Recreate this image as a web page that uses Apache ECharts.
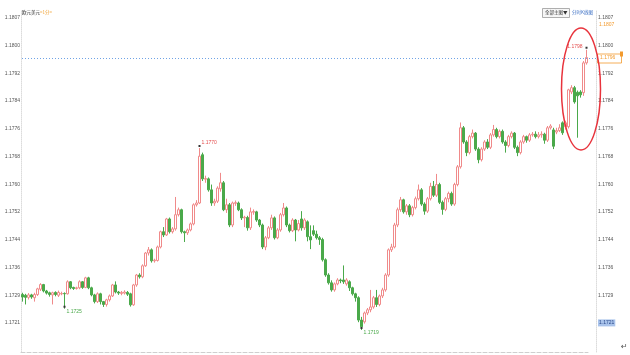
<!DOCTYPE html>
<html><head><meta charset="utf-8">
<script src="https://cdn.jsdelivr.net/npm/echarts@6/dist/echarts.min.js"></script>
<style>html,body{margin:0;padding:0;background:#fff}#c{width:630px;height:355px}</style>
</head><body><div id="c"></div>
<script>
const tickLabels = ["1.1721","1.1729","1.1736","1.1744","1.1752","1.1760","1.1768","1.1776","1.1784","1.1792","1.1800","1.1807"];
const opens = [
1.17290,1.17288,1.17282,1.17289,1.17281,
1.17290,1.17305,1.17318,1.17300,1.17295,
1.17289,1.17296,1.17288,1.17292,1.17293,
1.17292,1.17326,1.17310,1.17307,1.17309,
1.17326,1.17310,1.17337,1.17309,1.17289,
1.17270,1.17292,1.17270,1.17262,1.17275,
1.17286,1.17317,1.17297,1.17293,1.17294,
1.17296,1.17292,1.17261,1.17317,1.17345,
1.17340,1.17371,1.17407,1.17416,1.17385,
1.17386,1.17424,1.17467,1.17458,1.17503,
1.17467,1.17475,1.17515,1.17529,1.17467,
1.17464,1.17472,1.17489,1.17543,1.17548,
1.17684,1.17615,1.17616,1.17585,1.17548,
1.17553,1.17588,1.17605,1.17529,1.17543,
1.17486,1.17547,1.17548,1.17529,1.17506,
1.17507,1.17478,1.17522,1.17523,1.17500,
1.17486,1.17424,1.17450,1.17478,1.17506,
1.17450,1.17472,1.17515,1.17534,1.17486,
1.17470,1.17500,1.17472,1.17503,1.17478,
1.17495,1.17453,1.17470,1.17460,1.17450,
1.17445,1.17388,1.17345,1.17323,1.17303,
1.17320,1.17331,1.17331,1.17320,1.17326,
1.17309,1.17292,1.17281,1.17218,1.17213,
1.17238,1.17247,1.17255,1.17281,1.17262,
1.17286,1.17303,1.17345,1.17416,1.17424,
1.17486,1.17529,1.17557,1.17523,1.17540,
1.17515,1.17535,1.17560,1.17585,1.17545,
1.17525,1.17560,1.17595,1.17570,1.17600,
1.17550,1.17530,1.17560,1.17575,1.17545,
1.17600,1.17650,1.17760,1.17720,1.17690,
1.17735,1.17745,1.17700,1.17670,1.17700,
1.17720,1.17705,1.17740,1.17755,1.17735,
1.17750,1.17720,1.17710,1.17735,1.17745,
1.17705,1.17690,1.17720,1.17735,1.17725,
1.17740,1.17742,1.17735,1.17740,1.17742,
1.17725,1.17760,1.17754,1.17748,1.17752,
1.17774,1.17763,1.17763,1.17861,1.17873,
1.17860,1.17861,1.17859,1.17943];
const closes = [
1.17283,1.17282,1.17289,1.17283,1.17290,
1.17306,1.17318,1.17300,1.17294,1.17290,
1.17295,1.17290,1.17296,1.17293,1.17292,
1.17326,1.17309,1.17307,1.17309,1.17326,
1.17310,1.17337,1.17309,1.17289,1.17270,
1.17292,1.17270,1.17262,1.17275,1.17286,
1.17317,1.17297,1.17294,1.17296,1.17297,
1.17291,1.17261,1.17317,1.17345,1.17340,
1.17371,1.17407,1.17416,1.17385,1.17387,
1.17424,1.17467,1.17458,1.17503,1.17467,
1.17475,1.17515,1.17529,1.17467,1.17464,
1.17472,1.17489,1.17543,1.17548,1.17680,
1.17616,1.17617,1.17585,1.17548,1.17553,
1.17590,1.17605,1.17529,1.17543,1.17486,
1.17548,1.17549,1.17529,1.17506,1.17508,
1.17478,1.17523,1.17524,1.17500,1.17486,
1.17424,1.17450,1.17478,1.17506,1.17450,
1.17472,1.17515,1.17534,1.17486,1.17470,
1.17500,1.17472,1.17490,1.17478,1.17500,
1.17453,1.17444,1.17460,1.17450,1.17445,
1.17388,1.17345,1.17323,1.17303,1.17320,
1.17331,1.17329,1.17326,1.17331,1.17309,
1.17292,1.17281,1.17218,1.17199,1.17238,
1.17247,1.17255,1.17281,1.17262,1.17286,
1.17303,1.17345,1.17416,1.17424,1.17486,
1.17529,1.17557,1.17523,1.17540,1.17515,
1.17535,1.17560,1.17585,1.17545,1.17525,
1.17560,1.17595,1.17570,1.17600,1.17550,
1.17530,1.17560,1.17575,1.17545,1.17600,
1.17650,1.17760,1.17720,1.17690,1.17735,
1.17745,1.17700,1.17670,1.17700,1.17720,
1.17705,1.17740,1.17755,1.17735,1.17750,
1.17720,1.17710,1.17735,1.17745,1.17705,
1.17690,1.17720,1.17735,1.17725,1.17740,
1.17742,1.17735,1.17740,1.17742,1.17725,
1.17760,1.17765,1.17708,1.17752,1.17760,
1.17746,1.17774,1.17867,1.17873,1.17833,
1.17850,1.17853,1.17943,1.17958];
const lows = [
1.17270,1.17262,1.17276,1.17278,1.17270,
1.17286,1.17300,1.17296,1.17290,1.17284,
1.17262,1.17285,1.17283,1.17288,1.17250,
1.17290,1.17305,1.17303,1.17304,1.17305,
1.17306,1.17308,1.17305,1.17285,1.17265,
1.17266,1.17262,1.17255,1.17256,1.17270,
1.17283,1.17293,1.17289,1.17288,1.17290,
1.17286,1.17256,1.17258,1.17312,1.17335,
1.17336,1.17368,1.17400,1.17380,1.17380,
1.17383,1.17420,1.17452,1.17455,1.17462,
1.17462,1.17470,1.17510,1.17462,1.17438,
1.17458,1.17468,1.17485,1.17538,1.17545,
1.17610,1.17605,1.17580,1.17540,1.17540,
1.17548,1.17580,1.17525,1.17520,1.17480,
1.17480,1.17540,1.17525,1.17500,1.17480,
1.17470,1.17472,1.17515,1.17495,1.17480,
1.17418,1.17415,1.17446,1.17472,1.17445,
1.17446,1.17467,1.17510,1.17480,1.17465,
1.17466,1.17440,1.17468,1.17470,1.17472,
1.17440,1.17418,1.17455,1.17445,1.17430,
1.17383,1.17340,1.17318,1.17298,1.17298,
1.17316,1.17322,1.17320,1.17315,1.17300,
1.17287,1.17270,1.17212,1.17190,1.17208,
1.17232,1.17240,1.17250,1.17255,1.17257,
1.17280,1.17298,1.17340,1.17410,1.17420,
1.17480,1.17523,1.17518,1.17515,1.17508,
1.17510,1.17530,1.17555,1.17540,1.17515,
1.17520,1.17555,1.17565,1.17565,1.17545,
1.17515,1.17525,1.17550,1.17540,1.17540,
1.17595,1.17645,1.17715,1.17680,1.17685,
1.17730,1.17695,1.17660,1.17665,1.17695,
1.17700,1.17700,1.17735,1.17730,1.17730,
1.17715,1.17690,1.17705,1.17730,1.17700,
1.17680,1.17685,1.17715,1.17718,1.17720,
1.17735,1.17730,1.17730,1.17732,1.17715,
1.17720,1.17755,1.17700,1.17742,1.17748,
1.17740,1.17755,1.17758,1.17855,1.17828,
1.17732,1.17845,1.17850,1.17938];
const highs = [
1.17295,1.17292,1.17294,1.17292,1.17295,
1.17309,1.17322,1.17320,1.17303,1.17298,
1.17298,1.17299,1.17301,1.17298,1.17296,
1.17330,1.17328,1.17312,1.17312,1.17330,
1.17328,1.17340,1.17340,1.17312,1.17292,
1.17296,1.17295,1.17272,1.17278,1.17290,
1.17320,1.17327,1.17300,1.17300,1.17302,
1.17300,1.17295,1.17320,1.17348,1.17350,
1.17375,1.17410,1.17424,1.17420,1.17391,
1.17428,1.17470,1.17480,1.17506,1.17507,
1.17480,1.17565,1.17535,1.17532,1.17470,
1.17476,1.17493,1.17547,1.17556,1.17703,
1.17690,1.17625,1.17620,1.17600,1.17560,
1.17595,1.17633,1.17610,1.17560,1.17548,
1.17552,1.17555,1.17552,1.17533,1.17512,
1.17512,1.17535,1.17530,1.17526,1.17503,
1.17490,1.17455,1.17483,1.17515,1.17510,
1.17477,1.17520,1.17548,1.17538,1.17490,
1.17505,1.17503,1.17500,1.17525,1.17505,
1.17499,1.17485,1.17485,1.17470,1.17455,
1.17450,1.17392,1.17350,1.17330,1.17324,
1.17336,1.17335,1.17372,1.17336,1.17330,
1.17312,1.17295,1.17285,1.17227,1.17242,
1.17252,1.17303,1.17286,1.17303,1.17290,
1.17309,1.17350,1.17420,1.17433,1.17492,
1.17535,1.17565,1.17560,1.17545,1.17545,
1.17540,1.17566,1.17600,1.17590,1.17550,
1.17565,1.17605,1.17610,1.17630,1.17605,
1.17555,1.17565,1.17580,1.17580,1.17605,
1.17655,1.17775,1.17765,1.17725,1.17740,
1.17755,1.17748,1.17705,1.17705,1.17725,
1.17728,1.17745,1.17768,1.17760,1.17755,
1.17755,1.17725,1.17740,1.17750,1.17748,
1.17710,1.17725,1.17740,1.17738,1.17745,
1.17748,1.17750,1.17748,1.17750,1.17746,
1.17765,1.17770,1.17760,1.17760,1.17770,
1.17778,1.17780,1.17870,1.17880,1.17878,
1.17865,1.17866,1.17948,1.17980];
const categories = opens.map((_, i) => String(i + 1));

const lo = +tickLabels[0], hi = +tickLabels[tickLabels.length - 1];
const step = (hi - lo) / (tickLabels.length - 1);
const tickValues = tickLabels.map((_, k) => lo + k * step);
const labelFor = v => tickLabels[Math.round((v - lo) / step)] || '';

function argExt(arr, a, b, isMax) {
  let best = a;
  for (let i = a; i < b; i++) if (isMax ? arr[i] > arr[best] : arr[i] < arr[best]) best = i;
  return best;
}
const iMax1 = argExt(highs, 0, 100, true);
const iMin1 = argExt(lows, 0, 50, false);
const iMin2 = argExt(lows, 100, 140, false);
const iMax2 = argExt(highs, 0, highs.length, true);
const lastClose = closes[closes.length - 1];

const candleData = opens.map((o, i) => [o, closes[i], lows[i], highs[i]]);
const FONT = '"Liberation Sans", Arial, sans-serif';
const red = '#e44d4d', green = '#4aa94a', orange = '#f29a2e';

function mp(idx, val, color, pos, off) {
  return {
    coord: [idx, val], value: val,
    symbol: 'rect', symbolSize: [2, 2], symbolOffset: [0, -2],
    itemStyle: { color: '#333' },
    label: { show: true, position: pos, distance: 1, offset: off, color: color,
      fontSize: 5, fontFamily: FONT, formatter: p => (+p.value).toFixed(4) }
  };
}

const axisCommon = {
  type: 'value', min: 1.17128, max: 1.18092, scale: true,
  splitLine: { show: false }, axisTick: { show: false },
  axisLine: { show: true, lineStyle: { color: '#dcdcdc', type: 'dotted', width: 1 } }
};

const baseGraphic = [
  { id: 't1', type: 'text', left: 22, top: 10, style: { text: '欧元美元', fill: '#333', font: '4.5px "Noto Sans CJK SC"' } },
  { id: 't2', type: 'text', left: 40, top: 10, style: { text: '<1分>', fill: '#f0a030', font: '4.5px "Noto Sans CJK SC"' } },
  { id: 'b1', type: 'rect', shape: { x: 542.5, y: 8.5, width: 27, height: 9 }, style: { fill: '#f6f6f6', stroke: '#9a9a9a', lineWidth: 0.8 } },
  { id: 't3', type: 'text', left: 545, top: 10, style: { text: '全部主图▼', fill: '#333', font: '4.5px "Noto Sans CJK SC"' } },
  { id: 't4', type: 'text', left: 572, top: 10, style: { text: '分时K线图', fill: '#3b6fc4', font: '4.5px "Noto Sans CJK SC"' } },
  { id: 't5', type: 'text', left: 599, top: 22, style: { text: '1.1807', fill: orange, font: '5px ' + FONT } },
  { id: 'el', type: 'ellipse', shape: { cx: 581, cy: 89, rx: 19.5, ry: 61 }, style: { fill: 'none', stroke: '#e8333c', lineWidth: 1.5 }, z: 100 },
  { id: 't6', type: 'text', left: 621, top: 343, style: { text: '↵', fill: '#555', font: '8px "DejaVu Sans"' } }
];

const chart = echarts.init(document.getElementById('c'), null, { renderer: 'canvas' });
chart.setOption({
  animation: false,
  backgroundColor: '#fff',
  grid: { left: 21, right: 42, top: 10, bottom: 3 },
  xAxis: {
    type: 'category', data: categories, boundaryGap: true,
    axisLine: { show: true, lineStyle: { color: '#cfcfcf', type: 'dashed' } },
    axisTick: { show: false }, axisLabel: { show: false }, splitLine: { show: false }
  },
  yAxis: [
    Object.assign({}, axisCommon, {
      position: 'left',
      axisLabel: { customValues: tickValues, formatter: labelFor, color: '#555', fontSize: 5, fontFamily: FONT, margin: 1 }
    }),
    Object.assign({}, axisCommon, {
      position: 'right', offset: 8,
      axisLabel: {
        customValues: tickValues, color: '#555', fontSize: 5, fontFamily: FONT, margin: 2,
        formatter: v => { const t = labelFor(v); return Math.round((v - lo) / step) === 0 ? '{sel|' + t + '}' : t; },
        rich: { sel: { backgroundColor: '#a9c3eb', color: '#2b4a8a', fontSize: 5, fontFamily: FONT, padding: [1, 1, 1, 1] } }
      }
    })
  ],
  series: [{
    type: 'candlestick', data: candleData, barWidth: '72%',
    itemStyle: { color: '#ffffff', color0: green, borderColor: '#f08a8a', borderColor0: green, borderWidth: 1 },
    markPoint: {
      animation: false,
      data: [
        mp(iMax1, highs[iMax1], red, 'right', [0, -3]),
        mp(iMin1, lows[iMin1], green, 'right', [0, 5]),
        mp(iMin2, lows[iMin2], green, 'right', [0, 5]),
        mp(iMax2, highs[iMax2], red, 'left', [-2, -1])
      ]
    }
  }],
  graphic: baseGraphic
});

// current-price line placed through the y scale
const py = Math.round(chart.convertToPixel({ yAxisIndex: 0 }, lastClose)) + 0.5;
chart.setOption({
  graphic: baseGraphic.concat([
    { id: 'pl', type: 'line', shape: { x1: 22, y1: py, x2: 597, y2: py },
      style: { stroke: '#6fa3e6', lineWidth: 1, lineDash: [1, 2] }, z: 50 },
    { id: 'pb', type: 'rect', shape: { x: 597.5, y: py - 4.5, width: 24, height: 9 },
      style: { fill: '#fff', stroke: orange, lineWidth: 0.8 }, z: 51 },
    { id: 'pt', type: 'text', x: 600, y: py - 3, style: { text: lastClose.toFixed(4), fill: orange, font: '5px ' + FONT }, z: 52 },
    { id: 'pk', type: 'rect', shape: { x: 620, y: py - 7, width: 3, height: 5 }, style: { fill: orange }, z: 52 }
  ])
});
</script></body></html>
